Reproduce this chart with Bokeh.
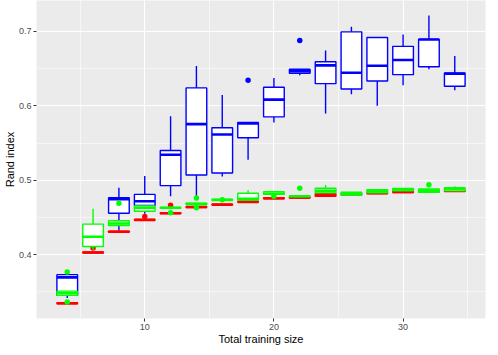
import numpy as np
from bokeh.plotting import figure
from bokeh.models import ColumnDataSource, FixedTicker, Range1d
from bokeh.transform import dodge
from bokeh.embed import file_html
from bokeh.resources import INLINE

nan = float("nan")
sizes = [4, 6, 8, 10, 12, 14, 16, 18, 20, 22, 24, 26, 28, 30, 32, 34]

# blue series
blue_lw  = [0.342, nan, 0.432, 0.455, 0.4785, 0.477, 0.505, 0.5276, 0.5775, 0.641, 0.5896, 0.6155, 0.600, 0.6276, 0.649, 0.6209]
blue_q1  = [0.3455, nan, 0.4557, 0.466, 0.4928, 0.507, 0.5098, 0.557, 0.5851, 0.6436, 0.6297, 0.6226, 0.6333, 0.6418, 0.6525, 0.6262]
blue_med = [0.3696, nan, 0.4744, 0.4718, 0.5343, 0.5754, 0.5614, 0.5762, 0.6083, 0.6463, 0.6543, 0.6444, 0.6538, 0.6614, 0.689, 0.6431]
blue_q3  = [0.3732, nan, 0.4767, 0.481, 0.540, 0.624, 0.5704, 0.5775, 0.6249, 0.649, 0.6592, 0.6993, 0.6918, 0.6798, 0.6892, 0.644]
blue_uw  = [0.3732, nan, 0.490, 0.5058, 0.586, 0.6534, 0.6146, 0.5775, 0.6373, 0.649, 0.6744, 0.706, 0.6918, 0.6958, 0.7213, 0.6668]
blue_out_x = [18, 22]
blue_out_y = [0.6343, 0.6878]

# green series
green_lw  = [0.3455, 0.4058, 0.4392, 0.4584, 0.4625, 0.4675, 0.4730, 0.4727, 0.4811, 0.4775, 0.483, 0.480, 0.483, 0.4857, 0.4838, 0.4857]
green_q1  = [0.3455, 0.4111, 0.4392, 0.4584, 0.4625, 0.4675, 0.4730, 0.4735, 0.4811, 0.478, 0.483, 0.480, 0.483, 0.4857, 0.4838, 0.4857]
green_med = [0.3485, 0.4241, 0.4419, 0.463, 0.463, 0.468, 0.4736, 0.475, 0.482, 0.4785, 0.4857, 0.482, 0.485, 0.4875, 0.486, 0.4885]
green_q3  = [0.351, 0.441, 0.4455, 0.4656, 0.4635, 0.469, 0.4742, 0.4825, 0.4847, 0.479, 0.4892, 0.4838, 0.4874, 0.489, 0.4883, 0.490]
green_uw  = [0.351, 0.4616, 0.4455, 0.4656, 0.4635, 0.469, 0.4742, 0.4865, 0.4847, 0.479, 0.4937, 0.4838, 0.4874, 0.489, 0.4883, 0.4918]
green_out_x = [4, 4, 8, 12, 14, 14, 16, 20, 22, 32]
green_out_y = [0.3767, 0.3366, 0.469, 0.4562, 0.4763, 0.4629, 0.4738, 0.4785, 0.4892, 0.494]

# red series
red_lw  = [0.3342, 0.4022, 0.4302, 0.4462, 0.4551, 0.4634, 0.4667, 0.4704, 0.4752, 0.4762, 0.4785, 0.4805, 0.482, 0.4836, 0.4845, 0.485]
red_q1  = [0.3342, 0.4022, 0.4302, 0.4462, 0.4551, 0.4634, 0.4667, 0.4704, 0.4752, 0.4762, 0.4785, 0.4805, 0.482, 0.4836, 0.4845, 0.485]
red_med = [0.3348, 0.403, 0.4308, 0.4468, 0.4557, 0.464, 0.4673, 0.471, 0.4758, 0.4768, 0.480, 0.481, 0.4825, 0.4842, 0.485, 0.4855]
red_q3  = [0.3354, 0.4038, 0.4314, 0.4474, 0.4563, 0.4646, 0.4679, 0.4716, 0.4764, 0.4774, 0.482, 0.4815, 0.483, 0.4857, 0.4855, 0.486]
red_uw  = [0.3354, 0.4038, 0.4314, 0.4474, 0.4563, 0.4646, 0.4679, 0.4716, 0.4764, 0.4774, 0.482, 0.4815, 0.483, 0.4857, 0.4855, 0.486]
red_out_x = [6, 10, 12]
red_out_y = [0.409, 0.4513, 0.4665]

x_ticks = [10, 20, 30]
x_minor = [5, 15, 25, 35]
y_ticks = [0.4, 0.5, 0.6, 0.7]
y_minor = [0.35, 0.45, 0.55, 0.65]

FONT = "Liberation Sans"
BOXW = 1.6

p = figure(width=490, height=347, output_backend="svg", toolbar_location=None,
           x_range=Range1d(1.62, 36.38), y_range=Range1d(0.3143, 0.7414),
           min_border_left=0, min_border_right=5, min_border_top=0, min_border_bottom=0)
p.background_fill_color = "#EBEBEB"
p.border_fill_color = "white"
p.outline_line_color = None

def draw(lw, q1, med, q3, uw, ox, oy, color):
    src = ColumnDataSource(dict(x=sizes, lw=lw, q1=q1, med=med, q3=q3, uw=uw))
    p.scatter(ox, oy, size=5.5, color=color, line_width=0)
    p.segment(x0="x", y0="q3", x1="x", y1="uw", source=src, line_color=color, line_width=1.4)
    p.segment(x0="x", y0="q1", x1="x", y1="lw", source=src, line_color=color, line_width=1.4)
    p.vbar(x="x", top="q3", bottom="q1", width=BOXW, source=src, fill_color="white",
           line_color=color, line_width=1.4)
    p.segment(x0=dodge("x", -BOXW / 2, range=p.x_range), y0="med",
              x1=dodge("x", BOXW / 2, range=p.x_range), y1="med",
              source=src, line_color=color, line_width=2.6)

draw(blue_lw, blue_q1, blue_med, blue_q3, blue_uw, blue_out_x, blue_out_y, "#0000FF")
draw(red_lw, red_q1, red_med, red_q3, red_uw, red_out_x, red_out_y, "#FF0000")
draw(green_lw, green_q1, green_med, green_q3, green_uw, green_out_x, green_out_y, "#00FF00")

p.xaxis.ticker = FixedTicker(ticks=x_ticks, minor_ticks=x_minor)
p.yaxis.ticker = FixedTicker(ticks=y_ticks, minor_ticks=y_minor)
p.yaxis.major_label_overrides = {v: f"{v:.1f}" for v in y_ticks}
p.xaxis.axis_label = "Total training size"
p.yaxis.axis_label = "Rand index"

for ax in (p.xaxis[0], p.yaxis[0]):
    ax.axis_line_color = None
    ax.major_tick_line_color = "#333333"
    ax.major_tick_out = 3
    ax.major_tick_in = 0
    ax.minor_tick_line_color = None
    ax.major_label_text_font = FONT
    ax.major_label_text_font_size = "9px"
    ax.major_label_text_color = "#4D4D4D"
    ax.major_label_standoff = 1
    ax.axis_label_text_font = FONT
    ax.axis_label_text_font_size = "11px"
    ax.axis_label_text_font_style = "normal"
    ax.axis_label_text_color = "black"
    ax.axis_label_standoff = 0

for g in (p.xgrid[0], p.ygrid[0]):
    g.grid_line_color = "white"
    g.grid_line_width = 1.1
    g.minor_grid_line_color = "white"
    g.minor_grid_line_width = 0.55

open("out.html", "w").write(file_html(p, INLINE))
